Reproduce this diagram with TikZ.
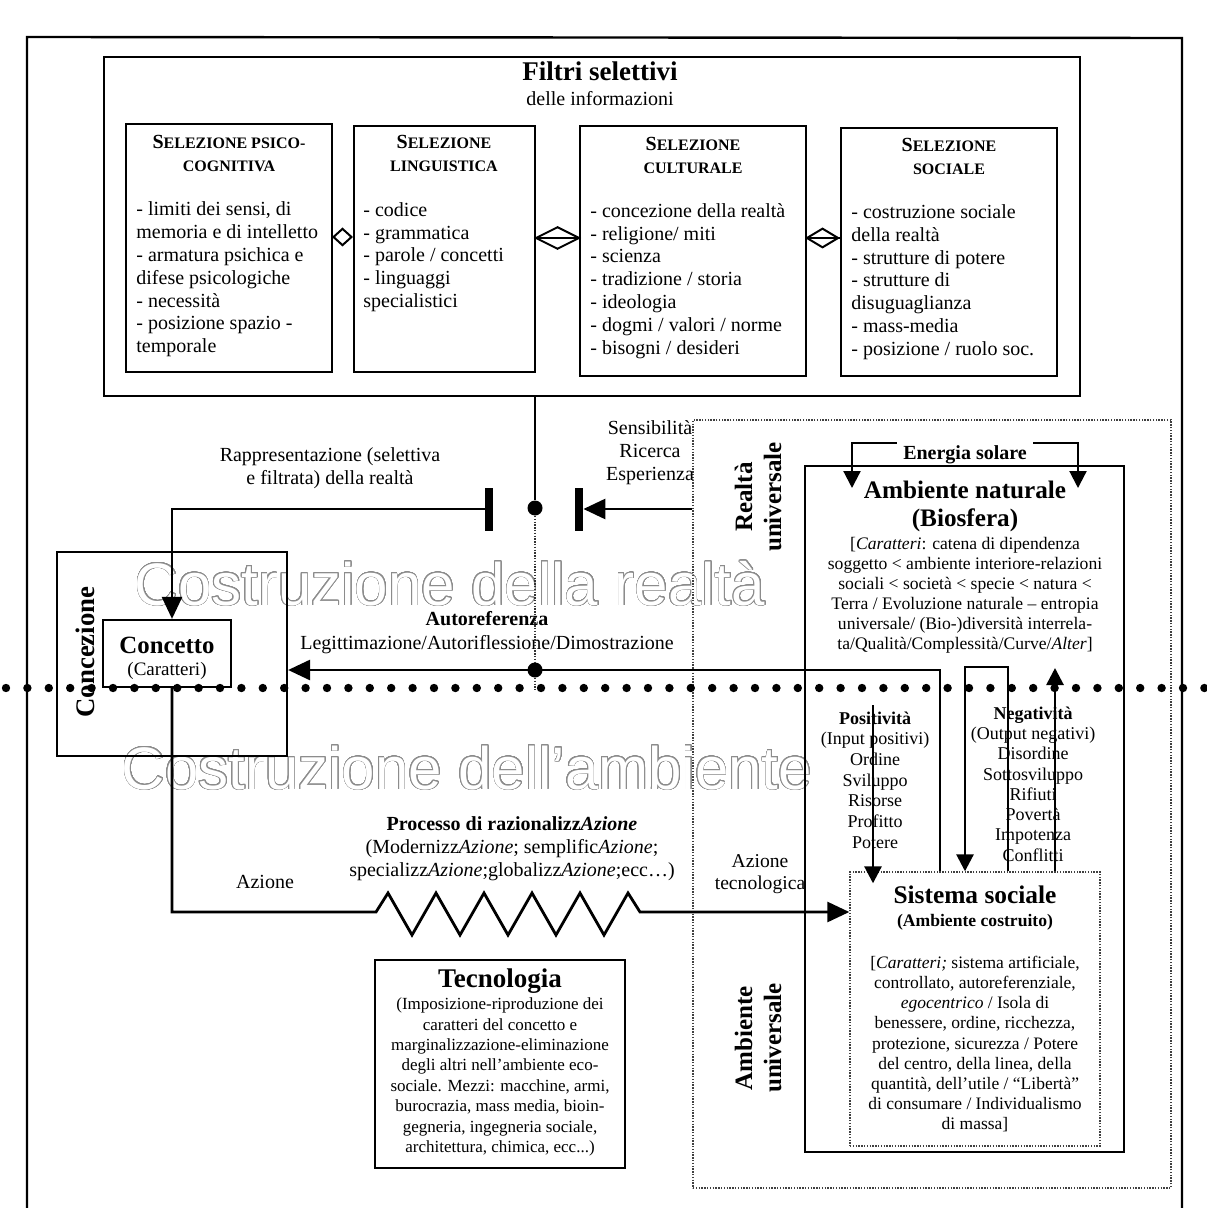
\documentclass[tikz,border=0pt]{standalone}
\usepackage{fontspec}
\setmainfont{Liberation Serif}
\newfontfamily\wmfont{Liberation Sans}
\usepackage{contour}
\contourlength{0.35pt}
\contournumber{32}
\usetikzlibrary{arrows.meta}
\newcommand\hdbig[1]{{\fontsize{10}{11.5}\selectfont #1}}
\newcommand\hdsm[1]{{\fontsize{8}{11.5}\selectfont #1}}
\begin{document}
\begin{tikzpicture}[x=0.5pt,y={(0pt,-0.5pt)},
  box/.style={draw,line width=1pt,inner sep=0pt},
  heavybox/.style={draw,line width=1.3pt,inner sep=0pt},
  dotbox/.style={draw=black!75,line width=0.7pt,dash pattern=on 0.7pt off 0.7pt,inner sep=0pt},
  conn/.style={line width=1.4pt,line join=miter},
  arr/.style={conn,-{Triangle[length=11pt,width=10pt]}},
  arrs/.style={conn,-{Triangle[length=8.5pt,width=8.5pt]}},
  thindot/.style={line width=0.7pt,dash pattern=on 0.7pt off 0.7pt,draw=black!80},
  dotnode/.style={circle,fill,inner sep=0pt,minimum size=7.5pt},
  barnode/.style={fill,inner sep=0pt,minimum width=4pt,minimum height=21.5pt},
  txt/.style={inner sep=0pt,align=center,font=\fontsize{10}{11.5}\selectfont},
  ltxt/.style={inner sep=0pt,align=left,anchor=west,font=\fontsize{10}{11.4}\selectfont},
  hdr/.style={inner sep=0pt,align=center,font=\bfseries\fontsize{8}{11.5}\selectfont},
  btxt/.style={inner sep=0pt,anchor=base},
  wm/.style={inner sep=0pt,anchor=base,font=\wmfont\fontsize{30}{30}\selectfont},
  vtxt/.style={inner sep=0pt,align=center,rotate=90,font=\bfseries\fontsize{12.5}{14.5}\selectfont},
  thin/.style={line width=1pt}
]
\fill[white] (0,0) rectangle (1206,1208);
\useasboundingbox (0,0) rectangle (1206,1208);

% watermarks
\node[wm] (wm1) at (450,605) {\color{white}\contour{black!45}{Costruzione della realtà}};
\node[wm] (wm2) at (467,789) {\color{white}\contour{black!45}{Costruzione dell’ambiente}};

% outer frame
\draw[line width=1.2pt] (27,1208) -- (27,37) -- (1182,38) -- (1182,1208);

% Filtri selettivi
\node[heavybox,minimum width=488pt,minimum height=169.5pt] (filtri) at (592,226.5) {};
\node[btxt,font=\bfseries\fontsize{13.5}{15}\selectfont] (filtriT) at (600,81) {Filtri selettivi};
\node[btxt,font=\fontsize{10}{12}\selectfont] (filtriS) at (600,105.5) {delle informazioni};

\node[box,minimum width=103pt,minimum height=124pt] (sel1) at (229,248) {};
\node[box,minimum width=90.5pt,minimum height=123pt] (sel2) at (444.5,249) {};
\node[box,minimum width=113pt,minimum height=125pt] (sel3) at (693,251) {};
\node[box,minimum width=108pt,minimum height=124pt] (sel4) at (949,252) {};

\node[hdr] (h1) at (229,153.5) {\hdbig{S}\hdsm{ELEZIONE PSICO-}\\\hdsm{COGNITIVA}};
\node[hdr] (h2) at (444,153.5) {\hdbig{S}\hdsm{ELEZIONE}\\\hdsm{LINGUISTICA}};
\node[hdr] (h3) at (693,155.5) {\hdbig{S}\hdsm{ELEZIONE}\\\hdsm{CULTURALE}};
\node[hdr] (h4) at (949,156.5) {\hdbig{S}\hdsm{ELEZIONE}\\\hdsm{SOCIALE}};

\node[ltxt] (i1) at (136,279.5) {- limiti dei sensi, di\\memoria e di intelletto\\- armatura psichica e\\difese psicologiche\\- necessità\\- posizione spazio -\\temporale};
\node[ltxt] (i2) at (363,257) {- codice\\- grammatica\\- parole / concetti\\- linguaggi\\specialistici};
\node[ltxt] (i3) at (590,281) {- concezione della realtà\\- religione/ miti\\- scienza\\- tradizione / storia\\- ideologia\\- dogmi / valori / norme\\- bisogni / desideri};
\node[ltxt] (i4) at (851,282) {- costruzione sociale\\della realtà\\- strutture di potere\\- strutture di\\disuguaglianza\\- mass-media\\- posizione / ruolo soc.};

\coordinate (d1) at (0,237);
\coordinate (d2) at (0,238);
\draw[thin,-{Diamond[open,length=10.5pt,width=9.5pt]}] (sel1.east|-d1) -- (sel2.west|-d1);
\coordinate (c2l) at (sel2.east|-d2);
\coordinate (c2r) at (sel3.west|-d2);
\draw[thin] (c2l) -- (c2r);
\draw[thin,line join=miter] (c2l) ++(22,-11) -- (c2l) -- ++(22,11);
\draw[thin,line join=miter] (c2r) ++(-22,-11) -- (c2r) -- ++(-22,11);
\draw[thin] (sel3.east|-d2) -- (sel4.west|-d2);
\draw[thin,-{Diamond[open,length=17.5pt,width=10.5pt]}] (sel3.east|-d2) -- (sel4.west|-d2);

% Concezione / Concetto
\node[box,line width=1.1pt,minimum width=115pt,minimum height=102pt] (concezione) at (172,654) {};
\node[vtxt,font=\bfseries\fontsize{13.4}{15}\selectfont] (concezioneT) at (85,652) {Concezione};
\node[box,line width=1.1pt,minimum width=64pt,minimum height=33.5pt] (concetto) at (167,653.5) {};
\node[btxt,font=\bfseries\fontsize{12.4}{14}\selectfont] (concettoT) at (167,653) {Concetto};
\node[btxt,font=\fontsize{9.5}{11}\selectfont] (concettoS) at (167,675) {(Caratteri)};

% right side
\node[dotbox,minimum width=239pt,minimum height=384pt] (realta) at (932,804) {};
\node[box,minimum width=159.5pt,minimum height=343pt] (ambnat) at (964.5,809) {};
\node[dotbox,minimum width=125pt,minimum height=137pt] (sissoc) at (975,1009) {};

\node[vtxt] (realtaT) at (758,497) {Realtà\\universale};
\node[vtxt] (ambunivT) at (758,1038) {Ambiente\\universale};

\node[btxt,inner xsep=3pt,font=\bfseries\fontsize{10}{12}\selectfont] (energia) at (965,459.6) {Energia solare};
\node[txt,font=\bfseries\fontsize{12.6}{14}\selectfont] (ambnatT) at (965,506) {Ambiente naturale\\(Biosfera)};
\node[txt,font=\fontsize{8.8}{10}\selectfont] (ambnatB) at (965,595) {[\textit{Caratteri}: catena di dipendenza\\soggetto < ambiente interiore-relazioni\\sociali < società < specie < natura <\\Terra / Evoluzione naturale – entropia\\universale/ (Bio-)diversità interrela-\\ta/Qualità/Complessità/Curve/\textit{Alter}]};

\node[btxt,font=\bfseries\fontsize{12.7}{14}\selectfont] (sissocT) at (975,903) {Sistema sociale};
\node[btxt,font=\bfseries\fontsize{8.8}{10}\selectfont] (sissocS) at (975,926) {(Ambiente costruito)};
\node[txt,font=\fontsize{8.75}{10.05}\selectfont] (sissocB) at (975,1044) {[\textit{Caratteri;} sistema artificiale,\\controllato, autoreferenziale,\\\textit{egocentrico} / Isola di\\benessere, ordine, ricchezza,\\protezione, sicurezza / Potere\\del centro, della linea, della\\quantità, dell'utile / ``Libertà''\\di consumare / Individualismo\\di massa]};

\node[txt,font=\fontsize{9}{10.35}\selectfont] (posT) at (875,780) {\textbf{Positività}\\(Input positivi)\\Ordine\\Sviluppo\\Risorse\\Profitto\\Potere};
\node[txt,font=\fontsize{9}{10.15}\selectfont] (negT) at (1033,784) {\textbf{Negatività}\\(Output negativi)\\Disordine\\Sottosviluppo\\Rifiuti\\Povertà\\Impotenza\\Conflitti};

% Tecnologia
\node[box,minimum width=125pt,minimum height=104pt] (tecno) at (500,1064) {};
\node[btxt,font=\bfseries\fontsize{13.5}{15}\selectfont] (tecnoT) at (500,987) {Tecnologia};
\node[txt,font=\fontsize{8.5}{10.2}\selectfont] (tecnoB) at (500,1077) {(Imposizione-riproduzione dei\\caratteri del concetto e\\marginalizzazione-eliminazione\\degli altri nell'ambiente eco-\\sociale. Mezzi: macchine, armi,\\burocrazia, mass media, bioin-\\gegneria, ingegneria sociale,\\architettura, chimica, ecc...)};

% free labels
\node[txt] (sensT) at (650,453) {Sensibilità\\Ricerca\\Esperienza};
\node[txt] (rappT) at (330,468.5) {Rappresentazione (selettiva\\e filtrata) della realtà};
\node[txt,font=\fontsize{10}{12}\selectfont] (autoT) at (487,633) {\textbf{Autoreferenza}\\Legittimazione/Autoriflessione/Dimostrazione};
\node[txt] (procT) at (512,849) {\textbf{Processo di razionalizz\textit{Azione}}\\(Modernizz\textit{Azione}; semplific\textit{Azione};\\specializz\textit{Azione};globalizz\textit{Azione};ecc…)};
\node[btxt,font=\fontsize{10}{12}\selectfont] (azioneT) at (265,888.6) {Azione};
\node[txt,font=\fontsize{9.8}{11}\selectfont] (aztecT) at (760,874) {Azione\\tecnologica};

% connectors
\node[dotnode] (dotc) at (535,508) {};
\node[dotnode] (dot2) at (535,670) {};
\node[barnode] (barL) at (489,509) {};
\node[barnode] (barR) at (579,509) {};
\coordinate (dbot) at (535,690);
\draw[conn] (dotc |- filtri.south) -- (dotc);
\draw[thindot] (dotc) -- (dot2) -- (dbot);
\draw[arr] (barL.west) -| ([xshift=2.5pt]concetto.north);
\draw[arr] (realta.west |- barR) -- (barR.east);

\coordinate (arc) at (940,670);
\draw[arr] (sissoc.north -| arc) -- (arc) -- (concezione.east |- arc);

\coordinate (zs) at (376,912);
\coordinate (ze) at (640,912);
\draw[arr] ([xshift=2.5pt]concetto.south) |- (zs) -- (388,893) -- (412,935) -- (436,893) -- (460,935) -- (484,893) -- (508,935) -- (532,893) -- (556,935) -- (580,893) -- (604,935) -- (628,893) -- (ze) -- (sissoc.west |- ze);

\coordinate (posTop) at (873,705);
\draw[arrs,shorten >=-6pt] (posTop) -- (sissoc.north -| posTop);
\coordinate (lpR) at (1008,667);
\coordinate (lpL) at (965,667);
\draw[arrs] (sissoc.north -| lpR) -- (lpR) -- (lpL) -- (sissoc.north -| lpL);
\coordinate (upT) at (1055,668);
\draw[arrs] (sissoc.north -| upT) -- (upT);

\coordinate (esl) at (852,443);
\coordinate (esr) at (1078,443);
\coordinate (esl2) at (852,488);
\coordinate (esr2) at (1078,488);
\draw[arrs,line width=1.1pt] (energia.west |- esl) -- (esl) -- (esl2);
\draw[arrs,line width=1.1pt] (energia.east |- esr) -- (esr) -- (esr2);

% heavy dotted divider
\draw[line width=4.2pt,line cap=round,dash pattern=on 0pt off 10.7pt] (6,688) -- (1206,688);
\end{tikzpicture}
\end{document}
